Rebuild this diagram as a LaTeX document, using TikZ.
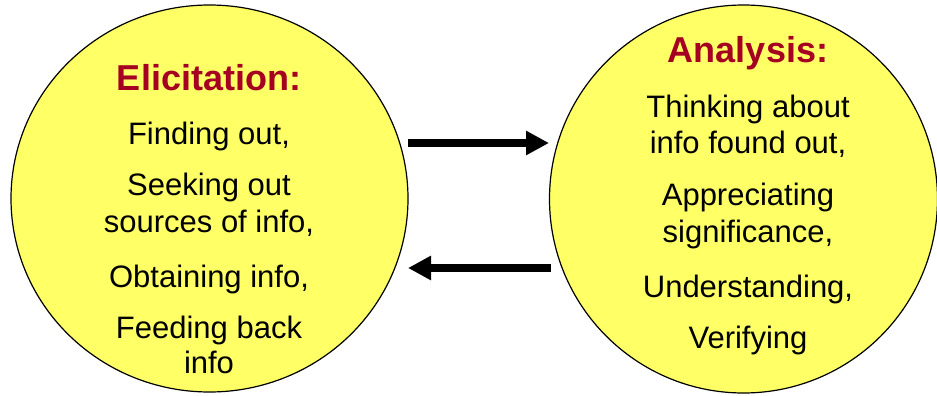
\documentclass[tikz,border=0pt]{standalone}
\usepackage{fontspec}
\setmainfont{Liberation Sans}
\usetikzlibrary{shapes.geometric,arrows.meta}
\definecolor{circfill}{HTML}{FFFF66}
\definecolor{titlered}{HTML}{A50021}
\begin{document}
\begin{tikzpicture}[x=1pt,y=-1pt,
  bubble/.style={ellipse,draw=black,line width=1.2pt,fill=circfill,inner sep=0pt},
  ttl/.style={anchor=base,inner sep=0pt,text=titlered,font=\fontsize{36}{40}\selectfont\bfseries},
  txt/.style={anchor=base,inner sep=0pt,font=\fontsize{31}{36}\selectfont},
  bigarrow/.style={line width=7.7pt,-{Triangle[length=23pt,width=23pt]}}]
\useasboundingbox (0,0) rectangle (937,396);
\node[bubble,minimum width=397pt,minimum height=387pt] (L) at (209.5,198.5) {};
\node[bubble,minimum width=388pt,minimum height=388pt] (R) at (743.5,199) {};
% left texts
\node[ttl] (l0) at (209,90) {Elicitation:};
\node[txt] (l1) at (209,144) {Finding out,};
\node[txt] (l2) at (209,195) {Seeking out};
\node[txt] (l3) at (209,232) {sources of info,};
\node[txt] (l4) at (209,287) {Obtaining info,};
\node[txt] (l5) at (209,338) {Feeding back};
\node[txt] (l6) at (209,373) {info};
% right texts
\node[ttl] (r0) at (748,63) {Analysis:};
\node[txt] (r1) at (748,117) {Thinking about};
\node[txt] (r2) at (748,153) {info found out,};
\node[txt] (r3) at (748,205) {Appreciating};
\node[txt] (r4) at (748,242) {significance,};
\node[txt] (r5) at (748,297) {Understanding,};
\node[txt] (r6) at (748,348) {Verifying};
% arrows
\coordinate (a1s) at (408,143);
\coordinate (a1e) at (549,143);
\coordinate (a2s) at (551,268);
\coordinate (a2e) at (408,268);
\draw[bigarrow] (a1s) -- (a1e);
\draw[bigarrow] (a2s) -- (a2e);
\end{tikzpicture}
\end{document}
